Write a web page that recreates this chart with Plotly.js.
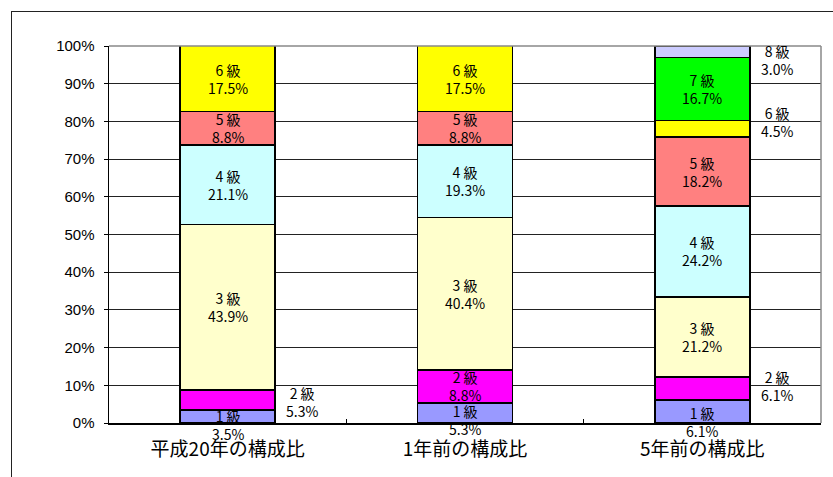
<!DOCTYPE html>
<html>
<head>
<meta charset="utf-8">
<script src="https://cdn.plot.ly/plotly-3.0.1.min.js"></script>
<style>
  html, body { margin: 0; padding: 0; background: #fff; }
  #wrap { position: relative; width: 833px; height: 477px; overflow: hidden; }
  #frame { position: absolute; left: 11px; top: 11px; width: 900px; height: 600px;
           border-left: 1.5px solid #222; border-top: 1.5px solid #222; pointer-events: none; }
  #chart { position: absolute; left: 0; top: 0; width: 833px; height: 477px; }
</style>
</head>
<body>
<div id="wrap">
  <div id="chart"></div>
  <div id="frame"></div>
</div>
<script>
// ---- data ----
const categories = ["平成20年の構成比", "1年前の構成比", "5年前の構成比"];
const grades = ["1級", "2級", "3級", "4級", "5級", "6級", "7級", "8級"];
const grade1 = [3.5, 5.3, 6.1];
const grade2 = [5.3, 8.8, 6.1];
const grade3 = [43.9, 40.4, 21.2];
const grade4 = [21.1, 19.3, 24.2];
const grade5 = [8.8, 8.8, 18.2];
const grade6 = [17.5, 17.5, 4.5];
const grade7 = [null, null, 16.7];
const grade8 = [null, null, 3.0];
const yTickVals = [0, 10, 20, 30, 40, 50, 60, 70, 80, 90, 100];
const yTickText = ["0%", "10%", "20%", "30%", "40%", "50%", "60%", "70%", "80%", "90%", "100%"];

// ---- styling ----
const colors = ["#9999ff", "#ff00ff", "#ffffcc", "#ccffff", "#ff8080", "#ffff00", "#00ff00", "#ccccff"];
const series = [grade1, grade2, grade3, grade4, grade5, grade6, grade7, grade8];
// label placement per [grade][category]: "in" centered, "out" to the right of bar; plus vertical shift (px)
const placement = [
  [["in", -9], ["in", -7], ["in", -10]],
  [["out", -2], ["in", 0], ["out", 3]],
  [["in", 0], ["in", 0], ["in", 0]],
  [["in", 0], ["in", 0], ["in", 0]],
  [["in", 0], ["in", 0], ["in", 0]],
  [["in", 0], ["in", 0], ["out", 7]],
  [["in", 0], ["in", 0], ["in", 0]],
  [["in", 0], ["in", 0], ["out", -8]]
];
const labelFont = { family: "Liberation Sans Narrow, Arial Narrow, Noto Sans CJK JP, sans-serif", size: 14, color: "#000" };

const traces = series.map((vals, i) => ({
  type: "bar",
  name: grades[i],
  x: categories,
  y: vals,
  width: 0.4,
  marker: { color: colors[i], line: { color: "#000", width: 1.5 } },
  hoverinfo: "skip"
}));

const annotations = [];
const base = categories.map(() => 0);
series.forEach((vals, i) => {
  vals.forEach((v, j) => {
    if (v === null) return;
    const mid = base[j] + v / 2;
    base[j] += v;
    const [mode, ys] = placement[i][j];
    annotations.push({
      x: mode === "in" ? j : j + 0.2,
      y: mid,
      xref: "x", yref: "y",
      text: grades[i].replace("級", " 級") + "<br>" + v.toFixed(1) + "%",
      showarrow: false,
      xanchor: mode === "in" ? "center" : "left",
      xshift: mode === "in" ? 0 : 9,
      yshift: ys,
      align: "center",
      font: labelFont
    });
  });
});

const layout = {
  width: 833, height: 477,
  margin: { l: 109, r: 12, t: 46, b: 54 },
  paper_bgcolor: "#fff", plot_bgcolor: "#fff",
  barmode: "stack",
  showlegend: false,
  xaxis: {
    type: "category",
    tickson: "boundaries",
    ticks: "inside", ticklen: 4, tickcolor: "#000",
    showline: true, linecolor: "#000", linewidth: 1.5,
    mirror: false,
    showgrid: false,
    ticklabelstandoff: 9,
    tickfont: { family: "Noto Sans CJK JP, sans-serif", size: 19, color: "#000" },
    range: [-0.5, 2.5]
  },
  yaxis: {
    range: [0, 100],
    tickvals: yTickVals, ticktext: yTickText,
    ticks: "outside", ticklen: 4, tickcolor: "#000",
    showline: true, linecolor: "#000", linewidth: 1.5,
    showgrid: true, gridcolor: "#222", gridwidth: 1,
    zeroline: false,
    ticklabelstandoff: 6,
    tickfont: { family: "Liberation Sans, Arial, sans-serif", size: 15, color: "#000" }
  },
  shapes: [
    { type: "line", xref: "paper", yref: "paper", x0: 1, x1: 1, y0: 0, y1: 1, line: { color: "#888", width: 1.5 } },
    { type: "line", xref: "paper", yref: "paper", x0: 0, x1: 1, y0: 1, y1: 1, line: { color: "#888", width: 1.5 } }
  ],
  annotations: annotations
};

Plotly.newPlot("chart", traces, layout, { displayModeBar: false, staticPlot: true });
</script>
</body>
</html>
